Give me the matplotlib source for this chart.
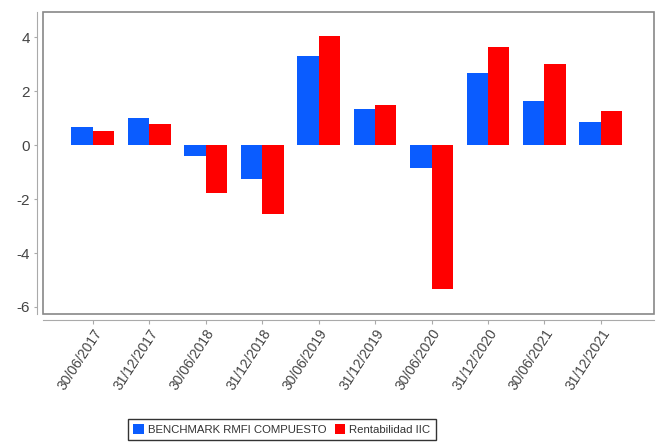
import matplotlib
matplotlib.use("Agg")
import matplotlib.pyplot as plt
import numpy as np
from matplotlib.patches import Rectangle

plt.rcParams["font.family"] = ["Liberation Sans", "DejaVu Sans"]
plt.rcParams["axes.unicode_minus"] = False

dates = ["30/06/2017", "31/12/2017", "30/06/2018", "31/12/2018", "30/06/2019",
         "31/12/2019", "30/06/2020", "31/12/2020", "30/06/2021", "31/12/2021"]
benchmark = [0.68, 0.99, -0.41, -1.24, 3.29, 1.33, -0.84, 2.67, 1.65, 0.84]
rentabilidad = [0.51, 0.78, -1.76, -2.55, 4.05, 1.50, -5.33, 3.63, 3.01, 1.26]
names = ["BENCHMARK RMFI COMPUESTO", "Rentabilidad IIC"]
colors = ["#0a5cff", "#ff0000"]

fig = plt.figure(figsize=(6.61, 4.46), dpi=100)
ax = fig.add_axes([43/661, 1-314/446, (654-43)/661, (314-12)/446])

x = np.arange(len(dates))
w = 0.38
ax.bar(x - w/2, benchmark, w, color=colors[0], label=names[0])
ax.bar(x + w/2, rentabilidad, w, color=colors[1], label=names[1])

ax.set_xlim(-0.88, len(dates) - 1 + 0.94)
ax.set_ylim(-6.26, 4.93)
ax.set_yticks([-6, -4, -2, 0, 2, 4])
ax.set_xticks(x)
ax.set_xticklabels(dates)

grey = "#888888"
for s in ["top", "right"]:
    ax.spines[s].set_visible(False)
for s in ["left", "bottom"]:
    ax.spines[s].set_position(("outward", 4))
    ax.spines[s].set_color("#aaaaaa")
ax.add_patch(Rectangle((0, 0), 1, 1, transform=ax.transAxes, fill=False,
                       edgecolor=grey, linewidth=1.2, clip_on=False))
ax.tick_params(axis="y", labelsize=11, labelcolor="#444444", color="#aaaaaa", length=2)
ax.tick_params(axis="x", labelsize=10, labelcolor="#444444", color="#aaaaaa", length=3, pad=2)
for lab in ax.get_xticklabels():
    lab.set_rotation(57)
    lab.set_ha("right")
    lab.set_rotation_mode("anchor")

leg = fig.legend(loc="upper center", bbox_to_anchor=(282/661, 1-419/446), ncol=2,
                 fontsize=8.2, frameon=True, fancybox=False, handlelength=0.9,
                 handleheight=0.9, handletextpad=0.4, columnspacing=0.7,
                 borderpad=0.45, borderaxespad=0)
leg.get_frame().set_edgecolor("black")
leg.get_frame().set_linewidth(1.0)
for t in leg.get_texts():
    t.set_color("#333333")

fig.savefig("out.png", dpi=100)
